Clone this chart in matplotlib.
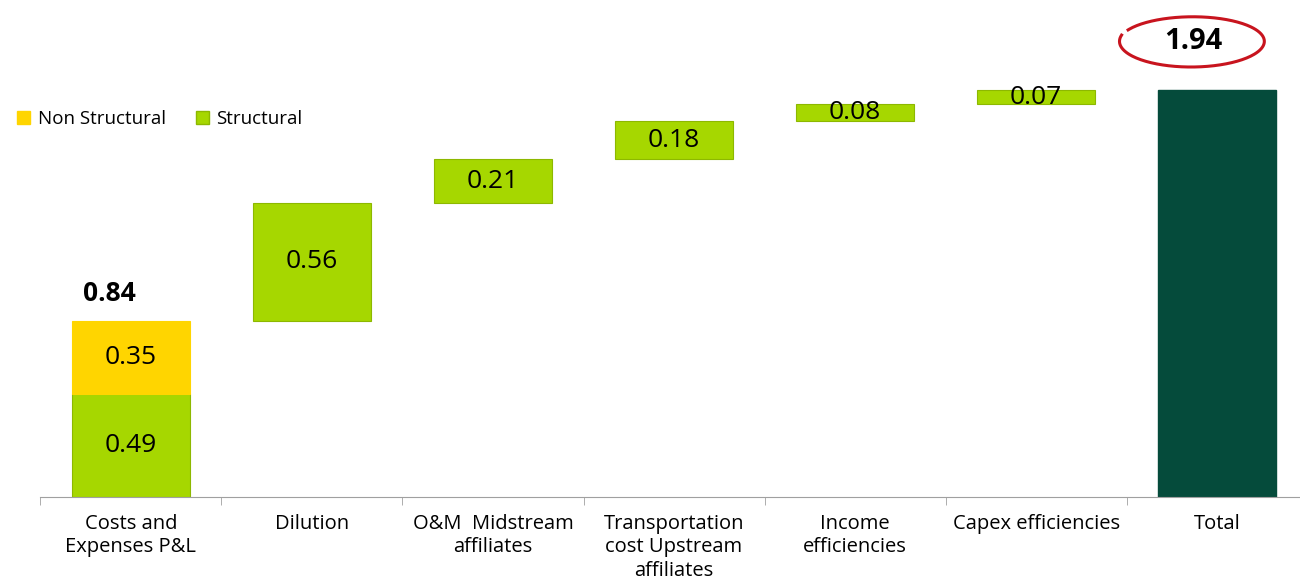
import matplotlib.pyplot as plt
from matplotlib.patches import Patch
import numpy as np

plt.rcParams['font.family'] = ['Open Sans', 'DejaVu Sans']

# datos del grafico
categories = ["Costs and\nExpenses P&L", "Dilution", "O&M  Midstream\naffiliates",
              "Transportation\ncost Upstream\naffiliates", "Income\nefficiencies",
              "Capex efficiencies", "Total"]
structural = [0.49, 0.56, 0.21, 0.18, 0.08, 0.07]
non_structural = [0.35, 0, 0, 0, 0, 0]
total = 1.94

green = "#A6D700"
green_edge = "#8DB800"
yellow = "#FFD500"
dark = "#054B3B"

fig = plt.figure(figsize=(13, 5.82), dpi=100)
ax = fig.add_axes([0.031, 0.146, 0.975, 0.854])

w = 0.65
base = 0.0
for i in range(len(structural)):
    s = structural[i]
    n = non_structural[i]
    ax.bar(i, s, bottom=base, width=w, color=green, edgecolor=green_edge, linewidth=0.8)
    ax.text(i, base + s / 2, f"{s:.2f}", ha='center', va='center', fontsize=19, color='black')
    if n > 0:
        ax.bar(i, n, bottom=base + s, width=w, color=yellow, edgecolor=yellow, linewidth=0.8)
        ax.text(i, base + s + n / 2, f"{n:.2f}", ha='center', va='center', fontsize=19)
        ax.text(i - 0.12, base + s + n + 0.13, f"{s + n:.2f}", ha='center', va='center',
                fontsize=19, fontweight='bold')
    base += s + n

ax.bar(6, total, width=w, color=dark, edgecolor=dark)
ax.text(5.87, 2.17, f"{total:.2f}", ha='center', va='center', fontsize=21, fontweight='bold')

# circulo rojo a mano alrededor del total
t = np.linspace(2.9, 2.9 + 2 * np.pi * 0.96, 200)
ex = 5.86 + 0.40 * np.cos(t)
ey = 2.17 + 0.125 * np.sin(t) * (1 - 0.08 * (t - 2.9) / (2 * np.pi))
ax.plot(ex, ey, color="#C8141E", linewidth=2.2, clip_on=False)

ax.set_xlim(-0.5, 6.5)
ax.set_ylim(0, 2.367)
ax.set_xticks(range(7))
ax.set_xticklabels(categories, fontsize=14.5, va='top', linespacing=1.25)
ax.set_xticks(np.arange(-0.5, 6.6, 1), minor=True)
ax.tick_params(axis='x', which='major', length=0, pad=12)
ax.tick_params(axis='x', which='minor', length=6, color='#A0A0A0', direction='out')
ax.set_yticks([])
for sp in ['left', 'right', 'top']:
    ax.spines[sp].set_visible(False)
ax.spines['bottom'].set_color('#A0A0A0')

handles = [Patch(facecolor=yellow, edgecolor=yellow), Patch(facecolor=green, edgecolor=green_edge)]
fig.legend(handles, ["Non Structural", "Structural"], loc='center left', bbox_to_anchor=(0.0, 0.795),
           ncol=2, frameon=False, fontsize=13.5, handlelength=0.7, handleheight=0.7,
           handletextpad=0.4, columnspacing=1.6)

fig.savefig("out.png", dpi=100)
